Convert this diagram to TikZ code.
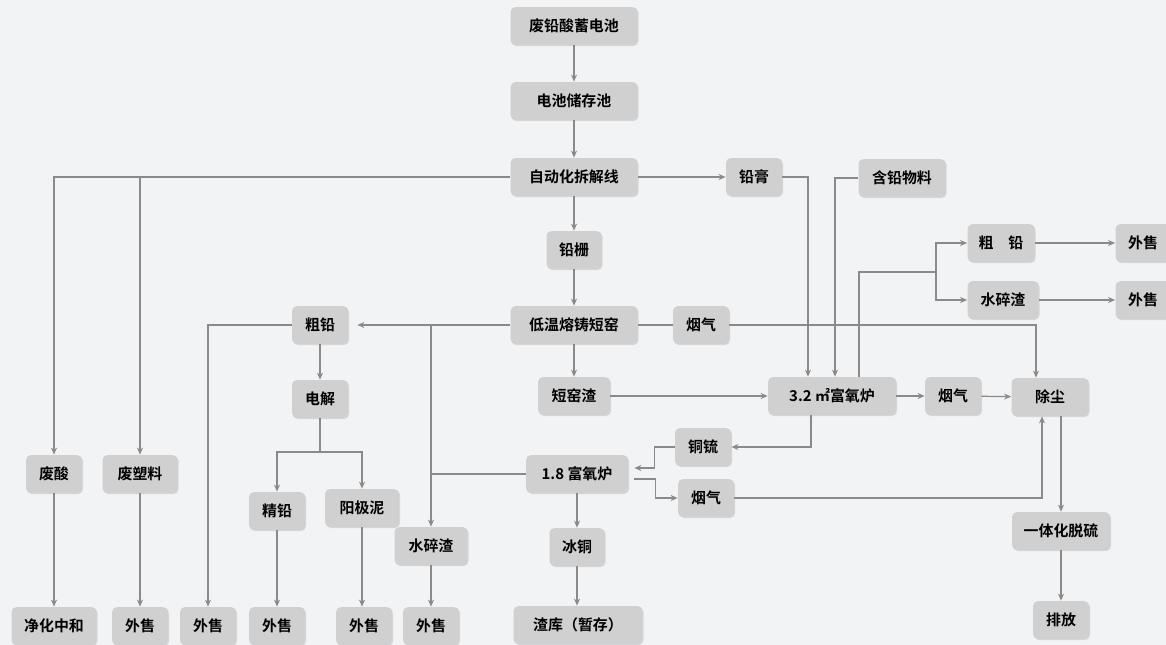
\documentclass[tikz,border=0pt]{standalone}
\usepackage{fontspec}
\setmainfont{Noto Sans CJK SC}[BoldFont={Noto Sans CJK SC Bold}]
\usepackage{tikz}
\usetikzlibrary{arrows.meta,positioning,calc,shadows}
\usepackage{xcolor}
\definecolor{paper}{HTML}{F2F3F5}
\definecolor{boxfill}{HTML}{D0D0D1}
\definecolor{wire}{HTML}{8A8A8A}

\begin{document}
\begin{tikzpicture}[x=0.02cm, y=-0.02cm,
    font=\bfseries\fontsize{8.5}{10}\selectfont,
    box/.style={rectangle, rounded corners=0.1cm, fill=boxfill, minimum height=0.76cm,
      inner sep=1pt, drop shadow={shadow xshift=0.6pt, shadow yshift=-0.6pt, opacity=0.25}},
    link/.style={draw=wire, line width=0.7pt},
    flow/.style={link, -{Stealth[length=4pt, width=3.4pt]}}]

  \useasboundingbox (0,0) rectangle (1166,645);
  \fill[paper] (0,0) rectangle (1166,645);

  \node[box, minimum width=2.54cm] (battery) at (574,26) {废铅酸蓄电池};
  \node[box, minimum width=2.54cm] (pool) at (574,101) {电池储存池};
  \node[box, minimum width=2.54cm] (dismantle) at (574,177) {自动化拆解线};
  \node[box, minimum width=1.12cm] (paste) at (754,177) {铅膏};
  \node[box, minimum width=1.74cm] (leadmat) at (902,178) {含铅物料};
  \node[box, minimum width=1.10cm] (grid) at (574,250) {铅栅};
  \node[box, minimum width=2.54cm] (kiln) at (574,325) {低温熔铸短窑};
  \node[box, minimum width=1.12cm] (fumeA) at (701,325) {烟气};
  \node[box, minimum width=1.12cm] (crudeL) at (320,325) {粗铅};
  \node[box, minimum width=1.12cm] (electro) at (320,399) {电解};
  \node[box, minimum width=1.44cm] (slagK) at (574,396) {短窑渣};
  \node[box, minimum width=2.56cm] (furnaceA) at (832,396) {3.2 ㎡富氧炉};
  \node[box, minimum width=1.12cm] (fumeB) at (953,396) {烟气};
  \node[box, minimum width=1.54cm] (dust) at (1050,397) {除尘};
  \node[box, minimum width=1.34cm] (crudeR) at (1001,243) {粗\quad 铅};
  \node[box, minimum width=1.42cm] (waterR) at (1003,300) {水碎渣};
  \node[box, minimum width=1.10cm] (sellR1) at (1143,243) {外售};
  \node[box, minimum width=1.10cm] (sellR2) at (1143,300) {外售};
  \node[box, minimum width=1.12cm] (matte) at (703,447) {铜锍};
  \node[box, minimum width=2.04cm] (furnaceB) at (577,474) {1.8 富氧炉};
  \node[box, minimum width=1.12cm] (fumeC) at (706,498) {烟气};
  \node[box, minimum width=1.46cm] (waterM) at (431,546) {水碎渣};
  \node[box, minimum width=1.10cm] (icecu) at (577,547) {冰铜};
  \node[box, minimum width=2.58cm] (slagyard) at (578,625) {渣库（暂存）};
  \node[box, minimum width=1.12cm] (acid) at (54,474) {废酸};
  \node[box, minimum width=1.50cm] (plastic) at (140,474) {废塑料};
  \node[box, minimum width=1.12cm] (fine) at (277,511) {精铅};
  \node[box, minimum width=1.48cm] (slime) at (362,508) {阳极泥};
  \node[box, minimum width=1.70cm] (neutral) at (54,626) {净化中和};
  \node[box, minimum width=1.12cm] (sell1) at (140,626) {外售};
  \node[box, minimum width=1.12cm] (sell2) at (208,626) {外售};
  \node[box, minimum width=1.12cm] (sell3) at (277,626) {外售};
  \node[box, minimum width=1.12cm] (sell4) at (364,626) {外售};
  \node[box, minimum width=1.12cm] (sell5) at (431,626) {外售};
  \node[box, minimum width=1.96cm] (desulf) at (1061,531) {一体化脱硫};
  \node[box, minimum width=1.12cm] (emit) at (1061,620) {排放};

  \coordinate (fork) at (936,272);
  \coordinate (esplit) at (320,452);

  \draw[flow] (battery) -- (pool);
  \draw[flow] (pool) -- (dismantle);
  \draw[flow] (dismantle) -- (paste);
  \draw[flow] (dismantle) -- (grid);
  \draw[flow] (dismantle.west) -| (acid.north);
  \draw[flow] (plastic.north |- dismantle.west) -- (plastic.north);
  \draw[flow] (acid) -- (neutral);
  \draw[flow] (plastic) -- (sell1);
  \draw[flow] (grid) -- (kiln);
  \draw[flow] (kiln) -- (slagK);
  \draw[flow] (kiln.west) -- ([xshift=0.18cm]crudeL.east);
  \draw[flow] (waterM.north |- kiln.west) -- (waterM.north);
  \draw[link] (furnaceB.west) -- (waterM.north |- furnaceB.west);
  \draw[flow] (crudeL.west) -| (sell2.north);
  \draw[flow] (crudeL) -- (electro);
  \draw[link] (electro.south) -- (esplit);
  \draw[flow] (esplit) -| (fine.north);
  \draw[flow] (esplit) -| (slime.north);
  \draw[flow] (fine) -- (sell3);
  \draw[flow] (slime.south) -- (sell4.north -| slime.south);
  \draw[flow] (waterM) -- (sell5);
  \draw[flow] (slagK) -- (furnaceA);
  \draw[link] (kiln) -- (fumeA);
  \draw[flow] (fumeA.east) -| ([xshift=-0.28cm]dust.north);
  \draw[flow] (paste.east) -| ([xshift=-0.48cm]furnaceA.north);
  \draw[flow] (leadmat.west) -| ([xshift=0.06cm]furnaceA.north);
  \draw[link] ([xshift=0.54cm]furnaceA.north) |- (fork);
  \draw[flow] (fork) |- (crudeR.west);
  \draw[flow] (fork) |- (waterR.west);
  \draw[flow] (crudeR) -- (sellR1);
  \draw[flow] (waterR) -- (sellR2);
  \draw[flow] (furnaceA) -- (fumeB);
  \draw[flow] (fumeB) -- (dust);
  \draw[flow] ([xshift=-0.42cm]furnaceA.south) |- (matte.east);
  \draw[flow] (matte.west) -- ++(-20,0) |- ([xshift=0.12cm, yshift=0.12cm]furnaceB.east);
  \draw[flow] ([xshift=0.12cm, yshift=-0.1cm]furnaceB.east) -- ++(21,0) |- (fumeC.west);
  \draw[flow] (fumeC.east) -| ([xshift=-0.16cm]dust.south);
  \draw[flow] (desulf.north |- dust.south) -- (desulf.north);
  \draw[flow] (desulf) -- (emit);
  \draw[flow] (furnaceB) -- (icecu);
  \draw[flow] (icecu.south) -- (icecu.south |- slagyard.north);

\end{tikzpicture}
\end{document}
